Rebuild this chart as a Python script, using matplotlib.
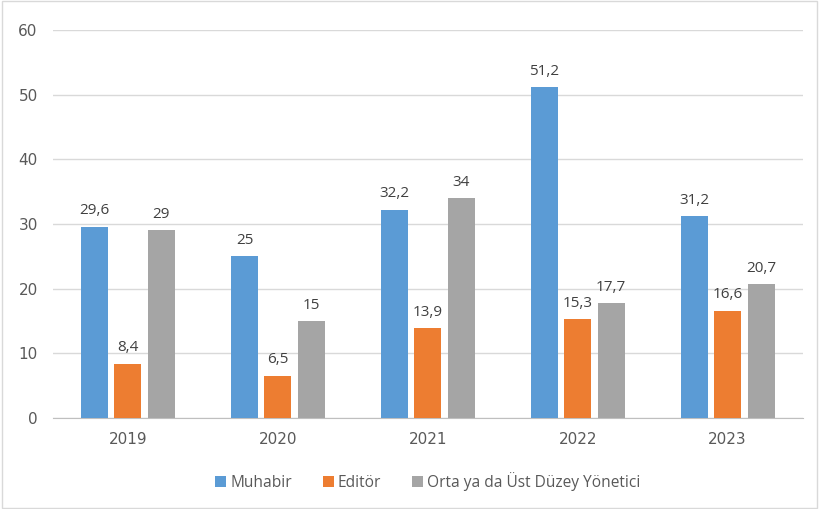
import numpy as np
import matplotlib.pyplot as plt
from matplotlib.patches import Rectangle

years = ['2019', '2020', '2021', '2022', '2023']
muhabir = [29.6, 25, 32.2, 51.2, 31.2]
editor = [8.4, 6.5, 13.9, 15.3, 16.6]
yonetici = [29, 15, 34, 17.7, 20.7]
series = ['Muhabir', 'Editör', 'Orta ya da Üst Düzey Yönetici']
colors = ['#5B9BD5', '#ED7D31', '#A5A5A5']

txt = '#595959'
plt.rcParams['font.family'] = ['Open Sans', 'DejaVu Sans']

fig = plt.figure(figsize=(8.19, 5.09), dpi=100)
ax = fig.add_axes([0.0647, 0.179, 0.9153, 0.762])
fig.patches.append(Rectangle((0.002, 0.002), 0.996, 0.996, transform=fig.transFigure,
                             fill=False, edgecolor='#D9D9D9', linewidth=1))

x = np.arange(len(years))
w = 0.18
step = 0.223
for i, (vals, c, name) in enumerate(zip([muhabir, editor, yonetici], colors, series)):
    bars = ax.bar(x + (i - 1) * step, vals, w, color=c, label=name, zorder=3)
    for b, v in zip(bars, vals):
        lab = ('%g' % v).replace('.', ',')
        ax.text(b.get_x() + b.get_width() / 2, v + 1.3, lab, ha='center', va='bottom',
                fontsize=11, color='#404040')

ax.set_xlim(-0.5, 4.5)
ax.set_ylim(0, 60)
ax.set_yticks(range(0, 61, 10))
ax.set_xticks(x)
ax.set_xticklabels(years)
ax.yaxis.grid(True, color='#D9D9D9', linewidth=1, zorder=0)
for s in ['top', 'right', 'left']:
    ax.spines[s].set_visible(False)
ax.spines['bottom'].set_color('#BFBFBF')
ax.tick_params(axis='both', length=0, colors=txt, labelsize=11)
for t in ax.get_xticklabels() + ax.get_yticklabels():
    t.set_family('DejaVu Sans')
ax.tick_params(axis='x', pad=10)
ax.tick_params(axis='y', pad=11)

ax.legend(loc='center', bbox_to_anchor=(0.5, -0.165), ncol=3, frameon=False,
          prop={'size': 11.2}, labelcolor=txt, handlelength=0.7, handleheight=0.7,
          handletextpad=0.25, columnspacing=2.0)

fig.savefig('out.png', dpi=100)
